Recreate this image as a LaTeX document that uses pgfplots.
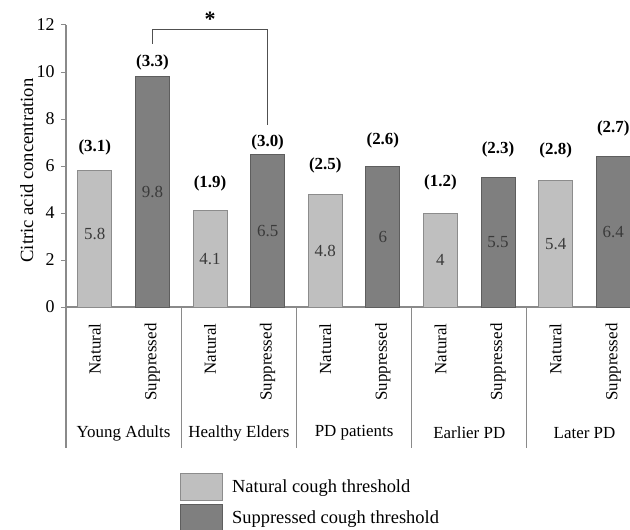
\documentclass[border=0pt]{standalone}
\usepackage{pgfplots}
\pgfplotsset{compat=1.18}
\usepackage{fontspec}
\setmainfont{Liberation Serif}
\definecolor{natfill}{HTML}{BFBFBF}
\definecolor{natedge}{HTML}{8C8C8C}
\definecolor{supfill}{HTML}{7F7F7F}
\definecolor{supedge}{HTML}{5E5E5E}
\definecolor{axisgray}{HTML}{8A8A8A}
\definecolor{valgray}{HTML}{3A3A3A}
\definecolor{brk}{HTML}{505050}
\pgfplotstableread{
x y
0 5.8
2 4.1
4 4.8
6 4
8 5.4
}\natural
\pgfplotstableread{
x y
1 9.8
3 6.5
5 6
7 5.5
9 6.4
}\suppressed
\pgfplotstableread{
x y lab
0 3.1 5.8
1 4.9 9.8
2 2.05 4.1
3 3.25 6.5
4 2.4 4.8
5 3.0 6
6 2.0 4
7 2.75 5.5
8 2.7 5.4
9 3.2 6.4
}\inside
\pgfplotstableread{
x y lab
0 6.8 (3.1)
1 10.4 (3.3)
2 5.27 (1.9)
3 7.0 (3.0)
4 6.04 (2.5)
5 7.1 (2.6)
6 5.3 (1.2)
7 6.7 (2.3)
8 6.65 (2.8)
9 7.6 (2.7)
}\sds
\begin{document}
\begin{tikzpicture}
\useasboundingbox (-66bp,-223bp) rectangle (564bp,307bp);
\begin{axis}[
  at={(0,0)}, anchor=south west,
  scale only axis, width=564bp, height=282bp,
  xmin=-0.5, xmax=9.29, ymin=0, ymax=12,
  clip=false,
  axis x line*=bottom, axis y line*=left,
  axis line style={draw=axisgray, line width=1.2bp, -},
  tick align=outside,
  major tick length=5bp,
  ytick={0,2,4,6,8,10,12},
  ytick style={draw=axisgray, line width=1bp},
  xtick={0,1,2,3,4,5,6,7,8,9},
  xtick style={draw=none},
  xticklabels={Natural,Suppressed,Natural,Suppressed,Natural,Suppressed,Natural,Suppressed,Natural,Suppressed},
  xticklabel style={font=\fontsize{17}{20}\selectfont, rotate=90, anchor=east},
  xticklabel shift=8bp,
  yticklabel style={font=\fontsize{18}{20}\selectfont},
  yticklabel shift=3bp,
  /pgf/number format/assume math mode=true,
  ylabel={Citric acid concentration},
  ylabel style={at={(axis description cs:-0.0585,0.484)}, anchor=base, font=\fontsize{18.7}{22}\selectfont},
  legend style={at={(0.2021,-0.5887)}, anchor=north west, draw=none, fill=none,
    font=\fontsize{18.5}{22}\selectfont, row sep=3bp, inner sep=0pt,
    /tikz/every odd column/.append style={column sep=7bp}},
  legend cell align=left,
]
\addplot[ybar, bar width=34bp, bar shift=0pt, fill=natfill, draw=natedge, line width=1bp,
  legend image code/.code={\draw[fill=natfill, draw=natedge, line width=1bp] (0bp,-13.5bp) rectangle (42bp,13.5bp);}]
  table[x=x,y=y] {\natural};
\addlegendentry{Natural cough threshold}
\addplot[ybar, bar width=34bp, bar shift=0pt, fill=supfill, draw=supedge, line width=1bp,
  legend image code/.code={\draw[fill=supfill, draw=supedge, line width=1bp] (0bp,-13.5bp) rectangle (42bp,13.5bp);}]
  table[x=x,y=y] {\suppressed};
\addlegendentry{Suppressed cough threshold}
\addplot[draw=none, mark=none, forget plot, nodes near coords, point meta=explicit symbolic,
  nodes near coords style={anchor=center, text=valgray, font=\fontsize{17}{20}\selectfont}]
  table[x=x,y=y,meta=lab] {\inside};
\addplot[draw=none, mark=none, forget plot, nodes near coords, point meta=explicit symbolic,
  nodes near coords style={anchor=center, text=black, font=\bfseries\fontsize{17}{20}\selectfont}]
  table[x=x,y=y,meta=lab] {\sds};
\draw[axisgray, line width=1.2bp] (axis cs:-0.5,0) -- ([yshift=-141bp]axis cs:-0.5,0);
\draw[axisgray, line width=1.2bp] (axis cs:1.5,0) -- ([yshift=-141bp]axis cs:1.5,0);
\draw[axisgray, line width=1.2bp] (axis cs:3.5,0) -- ([yshift=-141bp]axis cs:3.5,0);
\draw[axisgray, line width=1.2bp] (axis cs:5.5,0) -- ([yshift=-141bp]axis cs:5.5,0);
\draw[axisgray, line width=1.2bp] (axis cs:7.5,0) -- ([yshift=-141bp]axis cs:7.5,0);
\node[font=\fontsize{17}{20}\selectfont] at (axis cs:0.5,0) [yshift=-126bp] {Young Adults};
\node[font=\fontsize{17}{20}\selectfont] at (axis cs:2.5,0) [yshift=-126bp] {Healthy Elders};
\node[font=\fontsize{17}{20}\selectfont] at (axis cs:4.5,0) [yshift=-126bp] {PD patients};
\node[font=\fontsize{17}{20}\selectfont] at (axis cs:6.5,0) [yshift=-126bp] {Earlier PD};
\node[font=\fontsize{17}{20}\selectfont] at (axis cs:8.5,0) [yshift=-126bp] {Later PD};
\draw[brk, line width=1.5bp] (axis cs:1,11.2) |- (axis cs:3,11.8) -- (axis cs:3,7.75);
\node[font=\bfseries\fontsize{22}{24}\selectfont] at (axis cs:2,12.25) {*};
\end{axis}
\end{tikzpicture}
\end{document}
